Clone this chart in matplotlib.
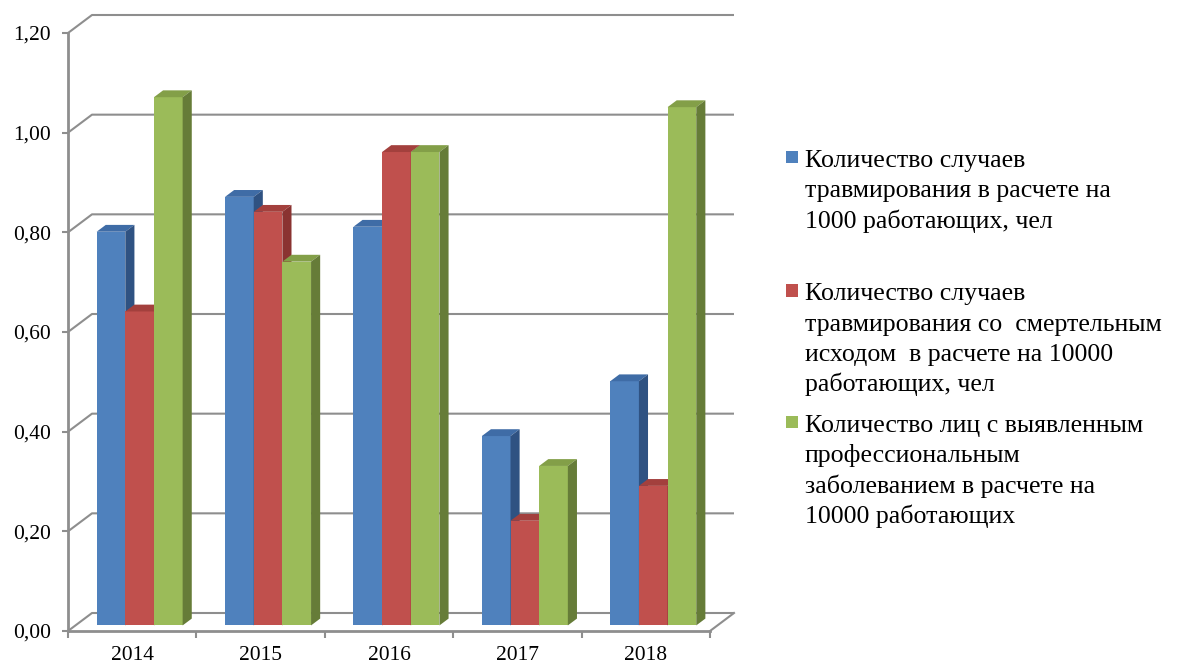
import matplotlib
matplotlib.use("Agg")
import matplotlib.pyplot as plt
from matplotlib.patches import Polygon, Rectangle

years = ["2014", "2015", "2016", "2017", "2018"]
injury_rate = [0.79, 0.86, 0.80, 0.38, 0.49]
fatal_rate = [0.63, 0.83, 0.95, 0.21, 0.28]
occupational_rate = [1.06, 0.73, 0.95, 0.32, 1.04]
series_labels = [
    ["Количество случаев", "травмирования в расчете на", "1000 работающих, чел"],
    ["Количество случаев", "травмирования со  смертельным",
     "исходом  в расчете на 10000", "работающих, чел"],
    ["Количество лиц с выявленным", "профессиональным",
     "заболеванием в расчете на", "10000 работающих"],
]
y_ticks = [0.0, 0.2, 0.4, 0.6, 0.8, 1.0, 1.2]

series = [injury_rate, fatal_rate, occupational_rate]
front_colors = ["#4F81BD", "#C0504D", "#9BBB59"]
top_colors = ["#3F6CA6", "#A3403D", "#839F48"]
side_colors = ["#2F5282", "#8A3331", "#667C38"]
grid_color = "#8E8E8E"

plt.rcParams["font.family"] = ["Liberation Serif", "DejaVu Serif"]

W, H, DPI = 1177, 663, 100
fig = plt.figure(figsize=(W / DPI, H / DPI), dpi=DPI)
fig.patch.set_facecolor("white")

# front plane of the plot box
ax_left, ax_bottom, ax_w, ax_h = 68, 32, 642, 598
ax = fig.add_axes([ax_left / W, ax_bottom / H, ax_w / W, ax_h / H])
n = len(years)
ymax = y_ticks[-1]
ax.set_xlim(0, n)
ax.set_ylim(0, ymax)
ax.patch.set_alpha(0)

# depth of the box, expressed in data units (oblique projection)
DX = 24 / (ax_w / n)
DY = 18 / (ax_h / ymax)

# back wall gridlines and left wall diagonals
for t in y_ticks:
    ax.plot([0, DX, n + DX], [t, t + DY, t + DY], color=grid_color,
            lw=1.5, clip_on=False, zorder=1, solid_capstyle="butt")
# right edge of the floor
ax.plot([n, n + DX], [0, DY], color=grid_color, lw=1.5, clip_on=False, zorder=1)

# columns
F = 0.31          # depth position of the column front faces
D = 0.38          # column depth as a fraction of the box depth
bw = 0.2233
for s, vals in enumerate(series):
    xs = [i + 0.5 + (s - 1) * bw + F * DX for i in range(n)]
    bars = ax.bar(xs, vals, width=bw, bottom=F * DY, color=front_colors[s],
                  zorder=3 + s, linewidth=0)
    for b in bars:
        x0 = b.get_x()
        x1 = x0 + b.get_width()
        yb = b.get_y()
        yt = yb + b.get_height()
        ddx, ddy = D * DX, D * DY
        ax.add_patch(Polygon([(x0, yt), (x1, yt), (x1 + ddx, yt + ddy), (x0 + ddx, yt + ddy)],
                             closed=True, color=top_colors[s], lw=0,
                             zorder=3 + s + 0.1, clip_on=False))
        ax.add_patch(Polygon([(x1, yb), (x1 + ddx, yb + ddy), (x1 + ddx, yt + ddy), (x1, yt)],
                             closed=True, color=side_colors[s], lw=0,
                             zorder=3 + s + 0.2, clip_on=False))

# axes styling
for side in ("top", "right"):
    ax.spines[side].set_visible(False)
for side in ("left", "bottom"):
    ax.spines[side].set_color(grid_color)
    ax.spines[side].set_linewidth(2.0)
    ax.spines[side].set_zorder(2)

ax.set_yticks(y_ticks)
ax.set_yticklabels([f"{t:.2f}".replace(".", ",") for t in y_ticks])
ax.tick_params(axis="y", direction="out", length=4.3, width=1.5, color=grid_color,
               pad=8.0, labelsize=15.5)

ax.set_xticks(range(n + 1))
ax.set_xticklabels([])
ax.set_xticks([i + 0.5 for i in range(n)], minor=True)
ax.set_xticklabels(years, minor=True)
ax.tick_params(axis="x", which="major", direction="out", length=5, width=1.5,
               color=grid_color)
ax.tick_params(axis="x", which="minor", length=0, pad=11, labelsize=15.5)

# legend
legend_x_box, legend_x_text = 786, 805
first_baselines = [166.7, 300.0, 431.7]
line_step = 30.5
for s, lines in enumerate(series_labels):
    base = first_baselines[s]
    fig.add_artist(Rectangle((legend_x_box / W, (H - base + 3.5) / H), 12 / W, 12 / H,
                             transform=fig.transFigure, color=front_colors[s], lw=0))
    for k, line in enumerate(lines):
        fig.text(legend_x_text / W, (H - (base + k * line_step)) / H, line,
                 fontsize=18.6, va="baseline", ha="left")

fig.savefig("out.png", dpi=DPI)
